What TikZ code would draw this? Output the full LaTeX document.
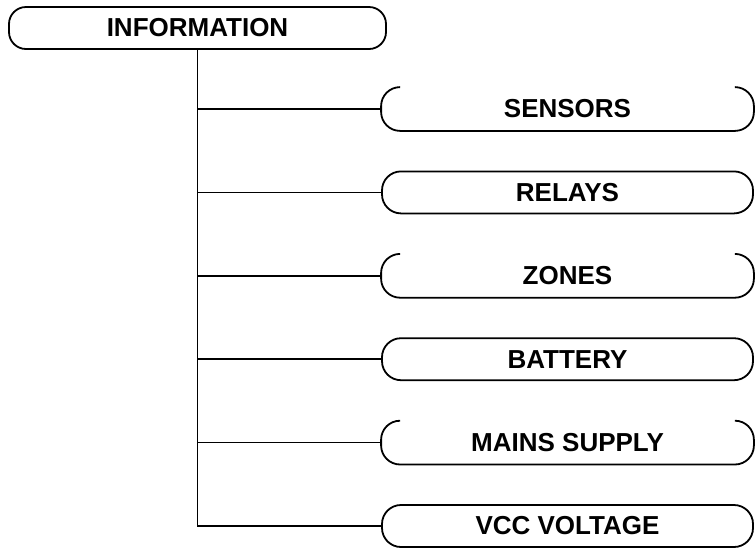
\documentclass[tikz,border=0pt]{standalone}
\usepackage{fontspec}
\setmainfont{Liberation Sans}
\usetikzlibrary{positioning}

\begin{document}
\begin{tikzpicture}[
  x=1pt, y=-1pt,
  head/.style={draw, line width=1.8pt, rounded corners=17pt, minimum width=377pt, minimum height=42pt, font=\fontsize{26}{30}\selectfont\bfseries},
  item/.style={draw, line width=1.8pt, rounded corners=19pt, minimum width=371pt, minimum height=42pt, font=\fontsize{26}{30}\selectfont\bfseries},
  openitem/.style={item, draw=none},
  outline/.style={line width=1.8pt, rounded corners=19pt},
  link/.style={line width=1.6pt},
  node distance=39.6pt,
]
  \useasboundingbox (0,0) rectangle (755,547);

  % Root
  \node[head] (info) at (197.5,28) {INFORMATION};

  % Leaves
  \node[openitem] (sensors) at (567.5,109) {SENSORS};
  \node[item, below=of sensors] (relays) {RELAYS};
  \node[openitem, below=of relays] (zones) {ZONES};
  \node[item, below=of zones] (battery) {BATTERY};
  \node[openitem, below=of battery] (mains) {MAINS SUPPLY};
  \node[item, below=of mains] (vcc) {VCC VOLTAGE};

  % Boxes with open top
  \foreach \n in {sensors, zones, mains}
    \draw[outline] ([xshift=19pt]\n.north west) -- (\n.north west) -- (\n.south west)
      -- (\n.south east) -- (\n.north east) -- ([xshift=-19pt]\n.north east);

  % Tree
  \draw[link] (info.south) |- (vcc.west);
  \foreach \n in {sensors, relays, zones, battery, mains}
    \draw[link] (info.south |- \n.west) -- (\n.west);
\end{tikzpicture}
\end{document}
